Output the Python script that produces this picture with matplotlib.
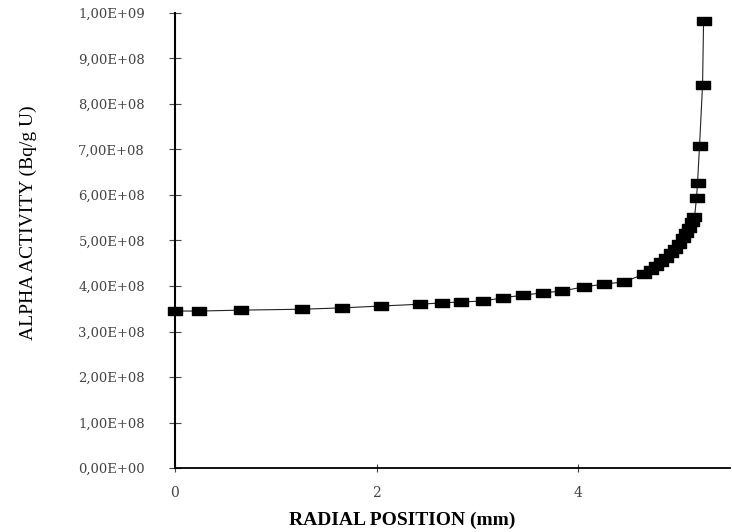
import matplotlib
matplotlib.use("Agg")
import matplotlib.pyplot as plt
import numpy as np

matplotlib.rc('font', family='Liberation Serif', size=10)

# radial position (mm) and alpha activity (Bq/g U)
radius = [0.00, 0.24, 0.65, 1.26, 1.66, 2.04, 2.43, 2.65, 2.84, 3.05,
          3.25, 3.45, 3.65, 3.84, 4.05, 4.25, 4.45, 4.65,
          4.72, 4.77, 4.82, 4.87, 4.92, 4.96, 5.00, 5.04, 5.07, 5.10,
          5.13, 5.15, 5.17, 5.18, 5.20, 5.23, 5.24]
activity = [3.45e8, 3.45e8, 3.47e8, 3.49e8, 3.52e8, 3.56e8, 3.60e8, 3.63e8,
            3.65e8, 3.67e8, 3.74e8, 3.80e8, 3.85e8, 3.89e8, 3.98e8, 4.04e8,
            4.09e8, 4.26e8, 4.35e8, 4.43e8, 4.52e8, 4.62e8, 4.72e8, 4.82e8,
            4.93e8, 5.05e8, 5.17e8, 5.28e8, 5.40e8, 5.51e8, 5.93e8, 6.26e8,
            7.08e8, 8.42e8, 9.82e8]
yticks = np.arange(0, 11) * 1e8
ylabels = ["0,00E+00", "1,00E+08", "2,00E+08", "3,00E+08", "4,00E+08",
           "5,00E+08", "6,00E+08", "7,00E+08", "8,00E+08", "9,00E+08",
           "1,00E+09"]
xticks = [0, 2, 4]

fig = plt.figure(figsize=(7.32, 5.32), dpi=100)
ax = fig.add_axes([0.239, 0.120, 0.758, 0.856])

rect = [(-1.75, -1), (1.75, -1), (1.75, 1), (-1.75, 1), (-1.75, -1)]
ax.plot(radius, activity, color='#222222', lw=0.8, marker=rect,
        markersize=10, markerfacecolor='black', markeredgecolor='black',
        clip_on=False, zorder=3)

ax.set_xlim(0, 5.5)
ax.set_ylim(0, 1e9)
ax.spines['top'].set_visible(False)
ax.spines['right'].set_visible(False)
ax.spines['left'].set_linewidth(1.5)
ax.spines['bottom'].set_linewidth(1.3)

ax.set_yticks(yticks)
ax.set_yticklabels(ylabels, family='DejaVu Serif')
ax.set_xticks(xticks)
ax.set_xticklabels([str(t) for t in xticks], family='DejaVu Serif')
ax.tick_params(axis='y', direction='inout', length=9, width=0.8, pad=17,
               labelsize=9.5, colors='#444444')
ax.tick_params(axis='x', direction='inout', length=6, width=0.8, pad=10,
               labelsize=10, colors='#444444')

ax.set_xlabel("RADIAL POSITION (mm)", fontsize=14, fontweight='bold')
ax.xaxis.set_label_coords(0.41, -0.095)
ax.set_ylabel("ALPHA ACTIVITY (Bq/g U)", fontsize=14)
ax.yaxis.set_label_coords(-0.248, 0.54)

plt.savefig("out.png", dpi=100)
